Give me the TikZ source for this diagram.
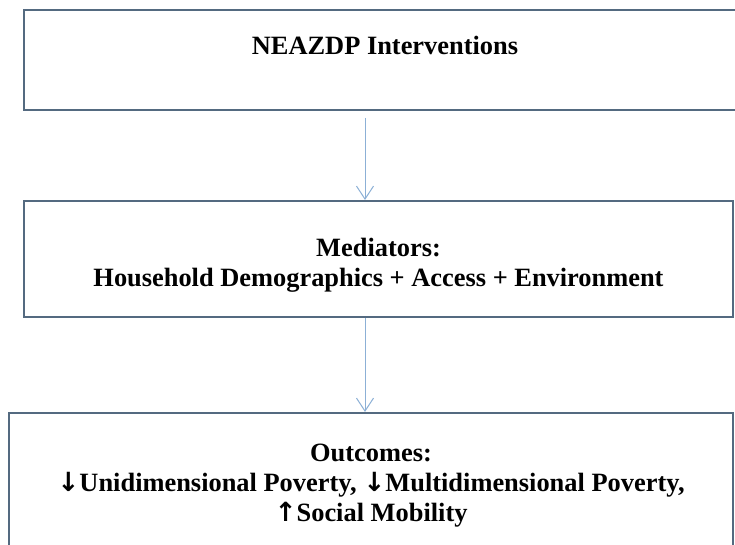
\documentclass[tikz,border=0pt]{standalone}
\usepackage{fontspec}
\setmainfont{Liberation Serif}
\newfontfamily\arrowfont{DejaVu Sans}
\usetikzlibrary{arrows.meta,positioning}
\definecolor{boxline}{RGB}{84,106,128}
\definecolor{flowline}{RGB}{140,176,214}
\newcommand{\less}{{\arrowfont ↓}}
\newcommand{\more}{{\arrowfont ↑}}
\tikzset{%
	stage/.style = {draw=boxline, line width=1pt, rectangle, align=center, font=\fontsize{13.2}{15}\selectfont\bfseries, inner sep=0pt},
	flow/.style  = {draw=flowline, line width=0.5pt, -{Straight Barb[length=6.5pt,width=8.5pt]}},
}
\begin{document}
\begin{tikzpicture}[x=0.5pt,y=-0.5pt]
	\clip (0,0) rectangle (735,545);
	\useasboundingbox (0,0) rectangle (735,545);
	\fill[white] (0,0) rectangle (735,545);
	
	\node[stage, minimum width=361pt, minimum height=50pt] (interventions) at (385,60) {NEAZDP Interventions\\~};
	\node[stage, minimum width=354.5pt, minimum height=58pt] (mediators) at (378.5,259) {\rule{0pt}{15pt}Mediators:\\Household Demographics + Access + Environment};
	\node[stage, minimum width=362pt, minimum height=73pt] (outcomes) at (371,486) {Outcomes:\\\less Unidimensional Poverty, \less Multidimensional Poverty,\\\more Social Mobility};
	
	\coordinate (spine) at (365,0);
	\draw[flow, shorten <=3.5pt] (interventions.south -| spine) -- (mediators.north -| spine);
	\draw[flow] (mediators.south -| spine) -- (outcomes.north -| spine);
\end{tikzpicture}
\end{document}
